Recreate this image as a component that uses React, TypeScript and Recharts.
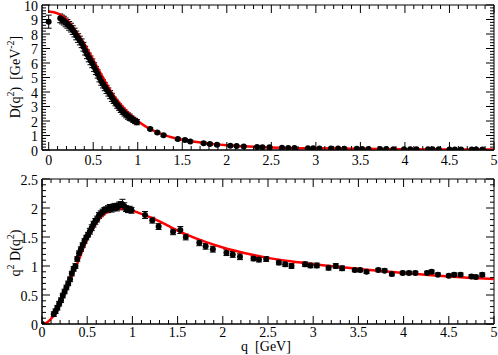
import React from 'react';
import { ComposedChart, Scatter, Line, XAxis, YAxis, ErrorBar, ReferenceArea } from 'recharts';

const FONT = '"Liberation Serif", "Times New Roman", Times, serif';

// ---- measured points: dense region ----
const denseQ = [0.13, 0.15, 0.17, 0.19, 0.21, 0.23, 0.25, 0.27, 0.29, 0.31, 0.33, 0.35, 0.37, 0.39, 0.41, 0.43, 0.45, 0.47, 0.49, 0.51, 0.53, 0.55, 0.57, 0.59, 0.61, 0.63, 0.65, 0.67, 0.69, 0.71, 0.73, 0.75, 0.77, 0.79, 0.81, 0.83, 0.85, 0.87, 0.89, 0.91, 0.93, 0.95, 0.97, 0.99];
const topDenseD = [9.08, 9.0, 8.92, 8.8, 8.7, 8.56, 8.44, 8.27, 8.1, 7.9, 7.72, 7.55, 7.36, 7.12, 6.85, 6.6, 6.38, 6.18, 5.98, 5.72, 5.48, 5.24, 4.98, 4.75, 4.56, 4.37, 4.18, 4.0, 3.82, 3.63, 3.43, 3.27, 3.1, 2.96, 2.81, 2.68, 2.56, 2.44, 2.34, 2.26, 2.17, 2.08, 2.0, 1.92];
const topDenseErr = [0.3, 0.3, 0.3, 0.3, 0.3, 0.3, 0.3, 0.3, 0.3, 0.3, 0.3, 0.3, 0.3, 0.3, 0.3, 0.3, 0.3, 0.3, 0.3, 0.3, 0.28, 0.28, 0.28, 0.28, 0.28, 0.28, 0.28, 0.28, 0.28, 0.28, 0.22, 0.22, 0.22, 0.22, 0.22, 0.22, 0.22, 0.22, 0.22, 0.22, 0.18, 0.18, 0.18, 0.18];
const botDenseV = [0.17, 0.22, 0.28, 0.35, 0.41, 0.49, 0.56, 0.63, 0.70, 0.77, 0.87, 0.95, 1.00, 1.12, 1.22, 1.29, 1.36, 1.43, 1.49, 1.54, 1.60, 1.66, 1.72, 1.77, 1.81, 1.87, 1.90, 1.93, 1.96, 1.97, 1.98, 2.00, 1.99, 2.01, 2.02, 2.01, 2.04, 2.05, 2.06, 2.03, 1.99, 1.97, 1.98, 1.96];
const botDenseErr = [0.04, 0.04, 0.04, 0.04, 0.04, 0.04, 0.04, 0.04, 0.04, 0.04, 0.04, 0.04, 0.04, 0.04, 0.04, 0.04, 0.04, 0.04, 0.04, 0.04, 0.05, 0.05, 0.05, 0.05, 0.05, 0.05, 0.05, 0.05, 0.05, 0.05, 0.06, 0.06, 0.06, 0.06, 0.06, 0.06, 0.06, 0.06, 0.09, 0.06, 0.05, 0.05, 0.05, 0.05];

// ---- measured points: sparse region ----
const sparseQ = [1.14, 1.22, 1.29, 1.45, 1.53, 1.59, 1.74, 1.81, 1.89, 2.04, 2.11, 2.19, 2.34, 2.40, 2.48, 2.62, 2.69, 2.76, 2.91, 2.97, 3.04, 3.17, 3.25, 3.32, 3.46, 3.52, 3.59, 3.72, 3.79, 3.87, 3.99, 4.06, 4.13, 4.26, 4.31, 4.38, 4.50, 4.56, 4.63, 4.75, 4.80, 4.87];
const topSparseD = [1.45, 1.20, 1.01, 0.756, 0.692, 0.593, 0.462, 0.409, 0.361, 0.296, 0.27, 0.242, 0.206, 0.193, 0.182, 0.154, 0.142, 0.131, 0.122, 0.115, 0.109, 0.097, 0.095, 0.087, 0.078, 0.075, 0.07, 0.067, 0.064, 0.058, 0.055, 0.053, 0.052, 0.048, 0.048, 0.044, 0.041, 0.041, 0.04, 0.036, 0.035, 0.036];
const topSparseErr = [0.08, 0.08, 0.08, 0.08, 0.08, 0.08, 0.08, 0.08, 0.08, 0.04, 0.04, 0.04, 0.04, 0.04, 0.04, 0.04, 0.04, 0.04, 0.02, 0.02, 0.02, 0.02, 0.02, 0.02, 0.02, 0.02, 0.02, 0.02, 0.02, 0.02, 0.02, 0.02, 0.02, 0.02, 0.02, 0.02, 0.02, 0.02, 0.02, 0.02, 0.02, 0.02];
const botSparseV = [1.88, 1.79, 1.68, 1.59, 1.62, 1.50, 1.40, 1.34, 1.29, 1.23, 1.20, 1.16, 1.13, 1.11, 1.12, 1.06, 1.03, 1.00, 1.03, 1.01, 1.01, 0.97, 1.00, 0.96, 0.93, 0.93, 0.90, 0.93, 0.92, 0.86, 0.88, 0.88, 0.88, 0.88, 0.90, 0.85, 0.83, 0.85, 0.85, 0.82, 0.81, 0.85];
const botSparseErr = [0.06, 0.05, 0.05, 0.05, 0.06, 0.05, 0.05, 0.05, 0.05, 0.05, 0.05, 0.05, 0.04, 0.04, 0.04, 0.04, 0.04, 0.04, 0.04, 0.04, 0.04, 0.04, 0.04, 0.04, 0.03, 0.03, 0.03, 0.03, 0.03, 0.03, 0.03, 0.03, 0.03, 0.03, 0.03, 0.03, 0.03, 0.03, 0.03, 0.03, 0.03, 0.03];

// zero-momentum point
const zeroQ = 0;
const topZeroD = 8.85;
const topZeroErr = 0.45;
const botZeroV = 0;

// ---- fitted curves ----
const topCurveQ = [0, 0.1, 0.2, 0.3, 0.4, 0.5, 0.6, 0.7, 0.8, 0.9, 1.0, 1.1, 1.2, 1.3, 1.4, 1.6, 1.8, 2.0, 2.25, 2.5, 3.0, 3.5, 4.0, 4.5, 5.0];
const topCurveD = [9.55, 9.42, 9.0, 8.25, 7.32, 6.22, 5.1, 4.02, 3.2, 2.52, 2.0, 1.58, 1.27, 1.03, 0.85, 0.6, 0.44, 0.33, 0.24, 0.18, 0.115, 0.078, 0.056, 0.042, 0.032];
const botCurveQ = [0, 0.05, 0.1, 0.15, 0.2, 0.25, 0.3, 0.35, 0.4, 0.45, 0.5, 0.55, 0.6, 0.65, 0.7, 0.75, 0.8, 0.85, 0.9, 0.95, 1.0, 1.1, 1.2, 1.3, 1.4, 1.5, 1.6, 1.8, 2.0, 2.25, 2.5, 2.75, 3.0, 3.5, 4.0, 4.5, 5.0];
const botCurveV = [0, 0.02, 0.09, 0.2, 0.35, 0.53, 0.72, 0.9, 1.08, 1.28, 1.46, 1.61, 1.74, 1.84, 1.91, 1.96, 1.985, 1.995, 1.99, 1.975, 1.955, 1.9, 1.84, 1.77, 1.69, 1.61, 1.54, 1.42, 1.32, 1.22, 1.14, 1.08, 1.03, 0.95, 0.88, 0.82, 0.775];

// ---- tick labels ----
const xMajor = [0, 0.5, 1, 1.5, 2, 2.5, 3, 3.5, 4, 4.5, 5];
const topYMajor = [0, 1, 2, 3, 4, 5, 6, 7, 8, 9, 10];
const botYMajor = [0, 0.5, 1, 1.5, 2, 2.5];

const makeTicks = (lo: number, hi: number, step: number) => {
  const out: number[] = [];
  const n = Math.round((hi - lo) / step);
  for (let i = 0; i <= n; i++) out.push(Math.round((lo + i * step) * 1000) / 1000);
  return out;
};
const xTicks = makeTicks(0, 5, 0.1);
const topYTicks = makeTicks(0, 10, 0.2);
const botYTicks = makeTicks(0, 2.5, 0.1);

const topPoints = [
  { q: zeroQ, y: topZeroD, e: topZeroErr },
  ...denseQ.map((q, i) => ({ q, y: topDenseD[i], e: topDenseErr[i] })),
  ...sparseQ.map((q, i) => ({ q, y: topSparseD[i], e: topSparseErr[i] })),
];
const botPoints = [
  { q: zeroQ, y: botZeroV, e: 0 },
  ...denseQ.map((q, i) => ({ q, y: botDenseV[i], e: botDenseErr[i] })),
  ...sparseQ.map((q, i) => ({ q, y: botSparseV[i], e: botSparseErr[i] })),
];
const topCurve = topCurveQ.map((q, i) => ({ q, y: topCurveD[i] }));
const botCurve = botCurveQ.map((q, i) => ({ q, y: botCurveV[i] }));

const isIn = (arr: number[], v: number) => arr.some((m) => Math.abs(m - v) < 1e-6);

const makeXTick = (plotTop: number, plotBottom: number, labelOffset: number) => (props: any) => {
  const { x, payload } = props;
  const v = payload.value;
  const major = isIn(xMajor, v);
  const len = major ? 8 : 4;
  return (
    <g>
      <line x1={x} y1={plotBottom} x2={x} y2={plotBottom - len} stroke="#000" strokeWidth={1} />
      <line x1={x} y1={plotTop} x2={x} y2={plotTop + len} stroke="#000" strokeWidth={1} />
      {major && (
        <text x={x} y={plotBottom + labelOffset} textAnchor="middle" fontFamily={FONT} fontSize={14} fill="#000">
          {String(v)}
        </text>
      )}
    </g>
  );
};

const makeYTick = (plotLeft: number, plotRight: number, majors: number[]) => (props: any) => {
  const { y, payload } = props;
  const v = payload.value;
  const major = isIn(majors, v);
  const len = major ? 8 : 4;
  return (
    <g>
      <line x1={plotLeft} y1={y} x2={plotLeft + len} y2={y} stroke="#000" strokeWidth={1} />
      <line x1={plotRight} y1={y} x2={plotRight - len} y2={y} stroke="#000" strokeWidth={1} />
      {major && (
        <text x={plotLeft - 4} y={y} dy={5.5} textAnchor="end" fontFamily={FONT} fontSize={14} fill="#000">
          {String(v)}
        </text>
      )}
    </g>
  );
};

const Dot = (p: any) => <circle cx={p.cx} cy={p.cy} r={3} fill="#000" />;

const W = 498;
const TOP_H = 170;
const BOT_H = 185;

const topXTick = makeXTick(5, 150, 15);
const topYTick = makeYTick(42, 494, topYMajor);
const botXTick = makeXTick(9, 154, 13);
const botYTick = makeYTick(42, 494, botYMajor);

export default function App() {
  return (
    <div style={{ position: 'absolute', left: 0, top: 0, width: W, height: 355, background: '#fff' }}>
      <div style={{ position: 'absolute', left: 0, top: 0 }}>
        <ComposedChart width={W} height={TOP_H} margin={{ top: 5, right: 4, bottom: 0, left: 0 }}>
          <XAxis type="number" dataKey="q" domain={[-0.075, 5]} allowDataOverflow ticks={xTicks} interval={0}
            tick={topXTick} tickLine={false} axisLine={{ stroke: '#000' }} height={20} />
          <YAxis type="number" dataKey="y" domain={[0, 10]} allowDataOverflow ticks={topYTicks} interval={0}
            tick={topYTick} tickLine={false} axisLine={{ stroke: '#000' }} width={42} />
          <ReferenceArea x1={-0.075} x2={5} y1={0} y2={10} fill="none" stroke="#000" strokeWidth={1} fillOpacity={0} />
          <Scatter data={topPoints} dataKey="y" isAnimationActive={false} shape={Dot}>
            <ErrorBar dataKey="e" width={3} stroke="#000" strokeWidth={1} direction="y" />
          </Scatter>
          <Line data={topCurve} dataKey="y" type="monotone" stroke="#ff0000" strokeWidth={2.5} dot={false}
            isAnimationActive={false} />
        </ComposedChart>
      </div>
      <div style={{ position: 'absolute', left: 0, top: TOP_H }}>
        <ComposedChart width={W} height={BOT_H} margin={{ top: 9, right: 4, bottom: 0, left: 0 }}>
          <XAxis type="number" dataKey="q" domain={[0, 5]} allowDataOverflow ticks={xTicks} interval={0}
            tick={botXTick} tickLine={false} axisLine={{ stroke: '#000' }} height={31} />
          <YAxis type="number" dataKey="y" domain={[0, 2.5]} allowDataOverflow ticks={botYTicks} interval={0}
            tick={botYTick} tickLine={false} axisLine={{ stroke: '#000' }} width={42} />
          <ReferenceArea x1={0} x2={5} y1={0} y2={2.5} fill="none" stroke="#000" strokeWidth={1} fillOpacity={0} />
          <Scatter data={botPoints} dataKey="y" isAnimationActive={false} shape={Dot}>
            <ErrorBar dataKey="e" width={3} stroke="#000" strokeWidth={1} direction="y" />
          </Scatter>
          <Line data={botCurve} dataKey="y" type="monotone" stroke="#ff0000" strokeWidth={2.5} dot={false}
            isAnimationActive={false} />
        </ComposedChart>
      </div>
      <svg width={W} height={355} style={{ position: 'absolute', left: 0, top: 0, pointerEvents: 'none' }}>
        <text transform="translate(20,77) rotate(-90)" textAnchor="middle" fontFamily={FONT} fontSize={14}
          fill="#000" style={{ whiteSpace: 'pre' }}>
          D(q<tspan dy={-6} fontSize={10}>2</tspan><tspan dy={6}>)  [GeV</tspan><tspan dy={-6} fontSize={10}>-2</tspan><tspan dy={6}>]</tspan>
        </text>
        <text transform="translate(20,253) rotate(-90)" textAnchor="middle" fontFamily={FONT} fontSize={14}
          fill="#000" style={{ whiteSpace: 'pre' }}>
          q<tspan dy={-6} fontSize={10}>2</tspan><tspan dy={6}> D(q</tspan><tspan dy={-6} fontSize={10}>2</tspan><tspan dy={6}>)</tspan>
        </text>
        <text x={266} y={351} textAnchor="middle" fontFamily={FONT} fontSize={14} fill="#000"
          style={{ whiteSpace: 'pre' }}>
          q  [GeV]
        </text>
      </svg>
    </div>
  );
}
